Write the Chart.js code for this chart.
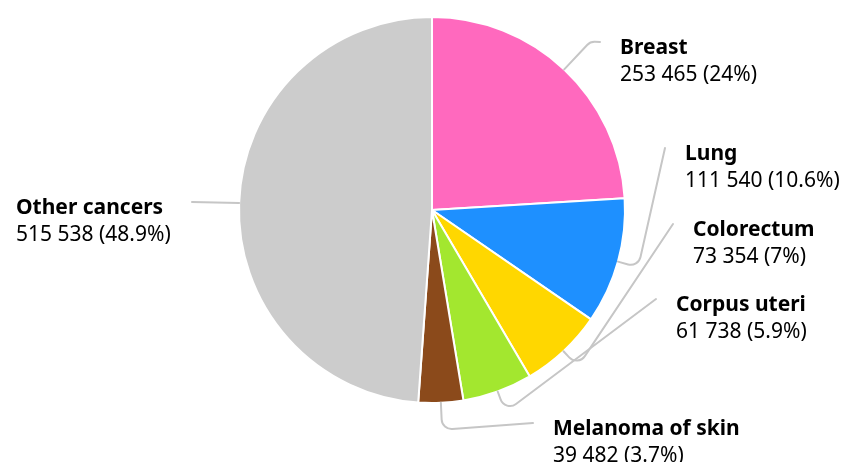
<!DOCTYPE html>
<html>
<head>
<meta charset="utf-8">
<script src="https://cdn.jsdelivr.net/npm/chart.js@4"></script>
<style>
  html, body { margin: 0; padding: 0; background: #fff; }
  #pie { display: block; }
</style>
</head>
<body>
<canvas id="pie" width="842" height="462"></canvas>
<script>
// ===== DATA =====
const sites = ['Breast', 'Lung', 'Colorectum', 'Corpus uteri', 'Melanoma of skin', 'Other cancers'];
const cases = [253465, 111540, 73354, 61738, 39482, 515538];
const colors = ['#FF69BE', '#1E90FF', '#FFD700', '#A3E72F', '#8B4A1B', '#CCCCCC'];

// ===== LABEL LAYOUT (line end point, elbow distance from centre, side) =====
const labelEnds = [[600, 42], [665, 148], [673, 224], [656, 299], [533, 423], [192, 202]];
const elbowRadius = [231, 214, 214, 215, 220, 240];
const labelSide = ['right', 'right', 'right', 'right', 'right', 'left'];

const total = cases.reduce((a, b) => a + b, 0);
const fmtNum = n => String(n).replace(/\B(?=(\d{3})+(?!\d))/g, ' ');
const fmtPct = n => {
  const p = (n / total * 100).toFixed(1);
  return (p.endsWith('.0') ? p.slice(0, -2) : p) + '%';
};

// ===== LABELS + LEADER LINES =====
const leaderLabels = {
  id: 'leaderLabels',
  afterDatasetsDraw(chart) {
    const ctx = chart.ctx;
    const arcs = chart.getDatasetMeta(0).data;
    arcs.forEach((arc, i) => {
      const { x, y, startAngle, endAngle, outerRadius } = arc.getProps(['x', 'y', 'startAngle', 'endAngle', 'outerRadius'], true);
      const mid = (startAngle + endAngle) / 2;
      const sx = x + Math.cos(mid) * outerRadius;
      const sy = y + Math.sin(mid) * outerRadius;
      const ex = x + Math.cos(mid) * elbowRadius[i];
      const ey = y + Math.sin(mid) * elbowRadius[i];
      const [tx, ty] = labelEnds[i];

      ctx.save();
      ctx.strokeStyle = '#c6c6c6';
      ctx.lineWidth = 2;
      ctx.lineJoin = 'round';
      ctx.lineCap = 'round';
      ctx.beginPath();
      ctx.moveTo(sx, sy);
      if (Math.hypot(tx - ex, ty - ey) > 2) {
        ctx.arcTo(ex, ey, tx, ty, 10);
      }
      ctx.lineTo(tx, ty);
      ctx.stroke();

      ctx.fillStyle = '#000';
      ctx.textBaseline = 'middle';
      ctx.textAlign = 'left';
      const lx = labelSide[i] === 'left' ? 16 : tx + 20;
      ctx.font = 'bold 21px "Noto Sans"';
      ctx.fillText(sites[i], lx, ty + 6);
      ctx.font = '21px "Noto Sans"';
      ctx.fillText(fmtNum(cases[i]) + ' (' + fmtPct(cases[i]) + ')', lx, ty + 33);
      ctx.restore();
    });
  }
};

// ===== PIE =====
new Chart(document.getElementById('pie').getContext('2d'), {
  type: 'pie',
  data: {
    labels: sites,
    datasets: [{
      data: cases,
      backgroundColor: colors,
      borderColor: '#ffffff',
      borderWidth: 2
    }]
  },
  options: {
    responsive: false,
    animation: false,
    layout: { padding: { left: 238, top: 16, right: 216, bottom: 58 } },
    plugins: {
      legend: { display: false },
      tooltip: { enabled: false }
    }
  },
  plugins: [leaderLabels]
});
</script>
</body>
</html>
